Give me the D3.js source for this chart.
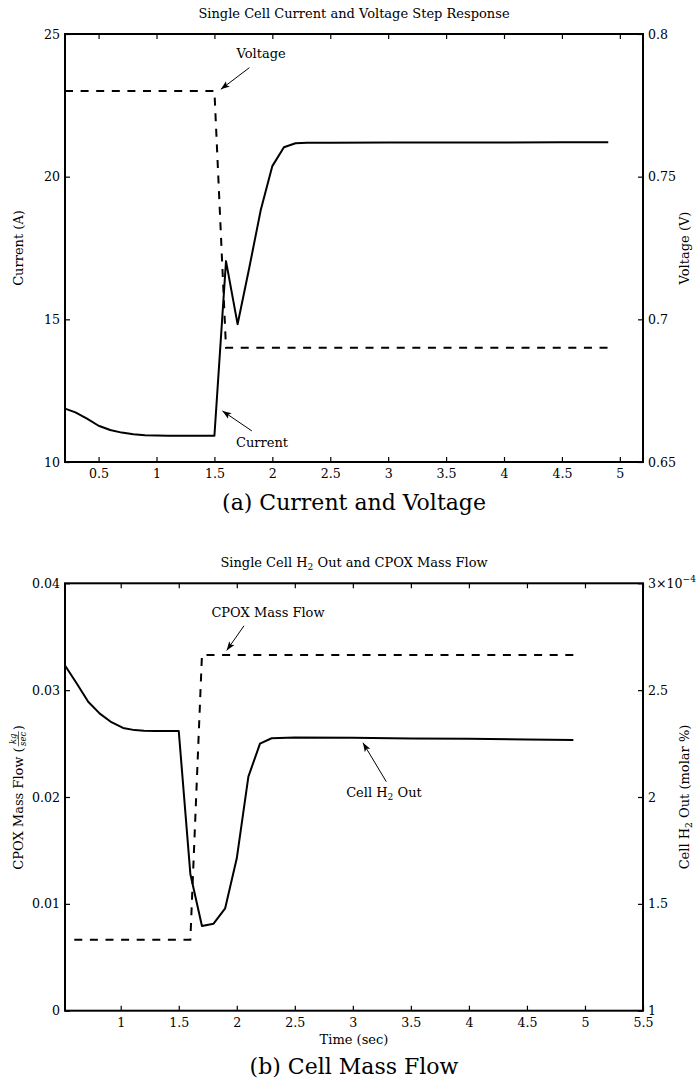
<!DOCTYPE html>
<html>
<head>
<meta charset="utf-8">
<script src="https://cdn.jsdelivr.net/npm/d3@7"></script>
<style>
body { margin: 0; background: #fff; }
text { font-family: "DejaVu Serif", "Liberation Serif", serif; fill: #000; }
</style>
</head>
<body>
<script>
// ---- data ----
// (a) current & voltage
var timeA    = [0.21, 0.3, 0.4, 0.5, 0.6, 0.7, 0.8, 0.9, 1.0, 1.1, 1.2, 1.3, 1.4, 1.5, 1.6, 1.7, 1.8, 1.9, 2.0, 2.1, 2.2, 2.3, 2.5, 3.0, 3.5, 4.0, 4.5, 4.9];
var current  = [11.87, 11.74, 11.52, 11.27, 11.12, 11.03, 10.97, 10.94, 10.93, 10.92, 10.92, 10.92, 10.92, 10.92, 17.04, 14.83, 16.79, 18.83, 20.37, 21.03, 21.17, 21.19, 21.19, 21.2, 21.2, 21.2, 21.21, 21.21];
var voltTime = [0.21, 1.5, 1.6, 4.9];
var voltage  = [0.78, 0.78, 0.69, 0.69];
var xTicksA  = [0.5, 1, 1.5, 2, 2.5, 3, 3.5, 4, 4.5, 5];
var currentTicks = [10, 15, 20, 25];
var voltageTicks = [0.65, 0.7, 0.75, 0.8];

// (b) mass flow (H2 out in units of 1e-4)
var timeB    = [0.52, 0.62, 0.72, 0.82, 0.92, 1.02, 1.12, 1.2, 1.3, 1.4, 1.5, 1.6, 1.7, 1.8, 1.9, 2.0, 2.1, 2.2, 2.3, 2.5, 3.0, 3.5, 4.0, 4.5, 4.9];
var h2Out    = [2.615, 2.532, 2.446, 2.39, 2.35, 2.323, 2.313, 2.31, 2.309, 2.309, 2.309, 1.64, 1.396, 1.407, 1.479, 1.713, 2.095, 2.25, 2.275, 2.278, 2.277, 2.274, 2.272, 2.269, 2.267];
var cpoxTime = [0.6, 1.6, 1.7, 4.9];
var cpoxFlow = [0.00665, 0.00665, 0.0333, 0.0333];
var xTicksB  = [1, 1.5, 2, 2.5, 3, 3.5, 4, 4.5, 5, 5.5];
var flowTicks = [0, 0.01, 0.02, 0.03, 0.04];
var h2Ticks   = [1, 1.5, 2, 2.5, 3];

var W = 696, H = 1091;
var L = 65, R = 643;
var fmt = d3.format("~g");

var svg = d3.select("body").append("svg")
    .attr("width", W)
    .attr("height", H);

svg.append("defs").append("marker")
    .attr("id", "arr")
    .attr("viewBox", "0 -4 9 8")
    .attr("refX", 9).attr("refY", 0)
    .attr("markerUnits", "userSpaceOnUse")
    .attr("markerWidth", 9).attr("markerHeight", 8)
    .attr("orient", "auto")
    .append("path")
    .attr("d", "M0,-3.2L9,0L0,3.2L2,0Z")
    .attr("fill", "#000");

function zip(a, b) { return a.map(function(d, i) { return [d, b[i]]; }); }

// text with subscripts: ["Cell H", "2", " Out"]
function subText(sel, parts) {
  parts.forEach(function(p, i) {
    if (i % 2 == 0) sel.append("tspan").text(p).attr("dy", i ? -3 : null);
    else sel.append("tspan").text(p).attr("font-size", "0.7em").attr("dy", 3);
  });
}

function panel(o) {
  var x = d3.scaleLinear().domain(o.xDomain).range([L, R]);
  var yl = d3.scaleLinear().domain(o.leftDomain).range([o.bottom, o.top]);
  var yr = d3.scaleLinear().domain(o.rightDomain).range([o.bottom, o.top]);
  var g = svg.append("g");

  function clean(a) {
    a.select(".domain").remove();
    a.attr("font-family", null).attr("font-size", 12.6);
    a.selectAll(".tick line").attr("stroke-width", 1.2);
  }

  g.append("g").attr("transform", "translate(0," + o.bottom + ")")
    .call(d3.axisBottom(x).tickValues(o.xTicks).tickSize(-5).tickPadding(7).tickFormat(fmt))
    .call(clean);
  g.append("g").attr("transform", "translate(0," + o.top + ")")
    .call(d3.axisTop(x).tickValues(o.xTicks).tickSize(-5).tickFormat(""))
    .call(clean);
  g.append("g").attr("transform", "translate(" + L + ",0)")
    .call(d3.axisLeft(yl).tickValues(o.leftTicks).tickSize(-5).tickPadding(5).tickFormat(fmt))
    .call(clean);
  var ra = g.append("g").attr("transform", "translate(" + R + ",0)")
    .call(d3.axisRight(yr).tickValues(o.rightTicks).tickSize(-5).tickPadding(5).tickFormat(fmt))
    .call(clean);
  if (o.rightExp) {
    ra.selectAll(".tick text").filter(function(d) { return d == o.rightDomain[1]; })
      .each(function(d) {
        var t = d3.select(this).text(fmt(d) + "×10");
        t.append("tspan").text("−4").attr("font-size", 9).attr("dy", -6);
      });
  }

  g.append("rect")
    .attr("x", L).attr("y", o.top)
    .attr("width", R - L).attr("height", o.bottom - o.top)
    .attr("fill", "none").attr("stroke", "#000").attr("stroke-width", 2);

  g.append("path")
    .datum(zip(o.dashX, o.dashY))
    .attr("fill", "none").attr("stroke", "#000").attr("stroke-width", 2)
    .attr("stroke-dasharray", "8,7.6")
    .attr("d", d3.line().x(function(d) { return x(d[0]); }).y(function(d) { return (o.dashRight ? yr : yl)(d[1]); }));

  g.append("path")
    .datum(zip(o.solidX, o.solidY))
    .attr("fill", "none").attr("stroke", "#000").attr("stroke-width", 2)
    .attr("stroke-linejoin", "round")
    .attr("d", d3.line().x(function(d) { return x(d[0]); }).y(function(d) { return (o.dashRight ? yl : yr)(d[1]); }));

  o.notes.forEach(function(n) {
    var ys = n.right ? yr : yl;
    var t = g.append("text")
      .attr("x", x(n.text[0])).attr("y", ys(n.text[1]))
      .attr("text-anchor", "middle").attr("font-size", 13);
    subText(t, n.label);
    g.append("line")
      .attr("x1", x(n.tail[0])).attr("y1", ys(n.tail[1]))
      .attr("x2", x(n.tip[0])).attr("y2", ys(n.tip[1]))
      .attr("stroke", "#000").attr("stroke-width", 1)
      .attr("marker-end", "url(#arr)");
  });

  var cx = (L + R) / 2;
  var tt = g.append("text").attr("x", cx).attr("y", o.top - 16)
    .attr("text-anchor", "middle").attr("font-size", 13);
  subText(tt, o.title);

  var ll = g.append("g")
    .attr("transform", "translate(23," + (o.top + o.bottom) / 2 + ") rotate(-90)");
  o.leftLabel(ll);

  var rl = g.append("text")
    .attr("transform", "translate(689," + (o.top + o.bottom) / 2 + ") rotate(-90)")
    .attr("text-anchor", "middle").attr("font-size", 13);
  subText(rl, o.rightLabel);

  if (o.xLabel) {
    g.append("text").attr("x", cx).attr("y", o.bottom + 33)
      .attr("text-anchor", "middle").attr("font-size", 13).text(o.xLabel);
  }
  g.append("text").attr("x", cx).attr("y", o.caption)
    .attr("text-anchor", "middle").attr("font-size", 22).text(o.captionText);
}

panel({
  top: 34, bottom: 462,
  xDomain: [0.21, 5.2], leftDomain: [10, 25], rightDomain: [0.65, 0.8],
  xTicks: xTicksA, leftTicks: currentTicks, rightTicks: voltageTicks,
  solidX: timeA, solidY: current,
  dashX: voltTime, dashY: voltage, dashRight: true,
  title: ["Single Cell Current and Voltage Step Response"],
  leftLabel: function(gl) {
    gl.append("text").attr("text-anchor", "middle").attr("font-size", 13).text("Current (A)");
  },
  rightLabel: ["Voltage (V)"],
  notes: [
    { label: ["Voltage"], right: true, text: [1.903, 0.7916], tail: [1.802, 0.7882], tip: [1.555, 0.7806] },
    { label: ["Current"], right: false, text: [1.911, 10.54], tail: [1.823, 11.09], tip: [1.569, 11.79] }
  ],
  caption: 510, captionText: "(a) Current and Voltage"
});

panel({
  top: 583.3, bottom: 1010.7,
  xDomain: [0.52, 5.5], leftDomain: [0, 0.04], rightDomain: [1, 3],
  xTicks: xTicksB, leftTicks: flowTicks, rightTicks: h2Ticks, rightExp: true,
  solidX: timeB, solidY: h2Out,
  dashX: cpoxTime, dashY: cpoxFlow, dashRight: false,
  title: ["Single Cell H", "2", " Out and CPOX Mass Flow"],
  leftLabel: function(gl) {
    var t1 = gl.append("text").attr("font-size", 13).text("CPOX Mass Flow (");
    var w1 = t1.node().getComputedTextLength();
    var fw = 17, w2 = 6;
    var total = w1 + fw + w2;
    t1.attr("x", -total / 2);
    var fx = -total / 2 + w1 + fw / 2;
    gl.append("text").attr("x", fx).attr("y", -7).attr("text-anchor", "middle")
      .attr("font-size", 8.5).attr("font-style", "italic").text("kg");
    gl.append("line").attr("x1", fx - fw / 2 + 1).attr("x2", fx + fw / 2 - 1)
      .attr("y1", -4.5).attr("y2", -4.5).attr("stroke", "#000").attr("stroke-width", 0.6);
    gl.append("text").attr("x", fx).attr("y", 2.5).attr("text-anchor", "middle")
      .attr("font-size", 8.5).attr("font-style", "italic").text("sec");
    gl.append("text").attr("x", -total / 2 + w1 + fw).attr("font-size", 13).text(")");
  },
  rightLabel: ["Cell H", "2", " Out (molar %)"],
  notes: [
    { label: ["CPOX Mass Flow"], right: false, text: [2.269, 0.03689], tail: [2.062, 0.03602], tip: [1.913, 0.03371] },
    { label: ["Cell H", "2", " Out"], right: true, text: [3.268, 2.0014], tail: [3.288, 2.072], tip: [3.087, 2.254] }
  ],
  xLabel: "Time (sec)",
  caption: 1074, captionText: "(b) Cell Mass Flow"
});
</script>
</body>
</html>
